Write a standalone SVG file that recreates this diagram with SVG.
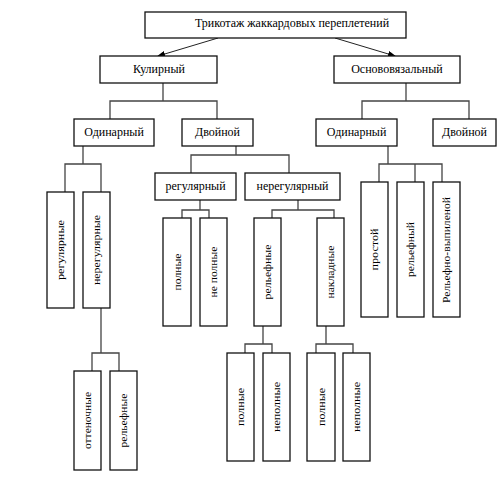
<svg xmlns="http://www.w3.org/2000/svg" width="501" height="479" viewBox="0 0 501 479">
<style>
.b{fill:#fff;stroke:#111;stroke-width:1.3}
.c{fill:none;stroke:#444;stroke-width:1.3}
.t{font-family:"Liberation Serif","Times New Roman",serif;font-size:12px;fill:#000;text-anchor:middle}
.v{font-family:"Liberation Serif","Times New Roman",serif;font-size:11px;fill:#000;text-anchor:middle}
</style>
<defs>
<marker id="ah" markerWidth="8" markerHeight="6" refX="7" refY="3" orient="auto" markerUnits="userSpaceOnUse">
<path d="M0,0 L8,3 L0,6 Z" fill="#000"/>
</marker>
</defs>
<rect width="501" height="479" fill="#fff"/>
<g id="connectors">
<line x1="218" y1="38" x2="158" y2="56" stroke="#222" stroke-width="1" marker-end="url(#ah)"/>
<line x1="335" y1="38" x2="395" y2="56" stroke="#222" stroke-width="1" marker-end="url(#ah)"/>
<path class="c" d="M163,83 V101 M110,119 V101 H217 V119"/>
<path class="c" d="M406,83 V101 M362,119 V101 H469 V119"/>
<path class="c" d="M83,146 V164 M65,192 V164 H101 V192"/>
<path class="c" d="M101,308 V353 M92,371 V353 H119 V371"/>
<path class="c" d="M236,146 V155 M191,173 V155 H289 V173"/>
<path class="c" d="M200,200 V210 M182,218 V210 H209 V218"/>
<path class="c" d="M298,200 V210 M272,218 V210 H334 V218"/>
<path class="c" d="M263,326 V344 M245,353 V344 H272 V353"/>
<path class="c" d="M326,326 V344 M316,353 V344 H353 V353"/>
<path class="c" d="M388,146 V164 M379,182 V164 H442 V182 M415,164 V182"/>
</g>
<g id="n-root"><rect class="b" x="145" y="12" width="261" height="26"/><text class="t" x="292" y="27">Трикотаж жаккардовых переплетений</text></g>
<g id="n-kul"><rect class="b" x="100" y="56" width="117" height="27"/><text class="t" x="159" y="73">Кулирный</text></g>
<g id="n-osn"><rect class="b" x="334" y="56" width="126" height="27"/><text class="t" x="397" y="73">Основовязальный</text></g>
<g id="n-kul-odin"><rect class="b" x="74" y="119" width="80" height="27"/><text class="t" x="114" y="136">Одинарный</text></g>
<g id="n-kul-dvoi"><rect class="b" x="182" y="119" width="71" height="27"/><text class="t" x="217.5" y="136">Двойной</text></g>
<g id="n-osn-odin"><rect class="b" x="316" y="119" width="81" height="27"/><text class="t" x="356.5" y="136">Одинарный</text></g>
<g id="n-osn-dvoi"><rect class="b" x="433" y="119" width="63" height="27"/><text class="t" x="464.5" y="136">Двойной</text></g>
<g id="n-reg"><rect class="b" x="155" y="173" width="81" height="27"/><text class="t" x="195.5" y="190">регулярный</text></g>
<g id="n-nereg"><rect class="b" x="245" y="173" width="95" height="27"/><text class="t" x="292.5" y="190">нерегулярный</text></g>
<g id="n-regularnye"><rect class="b" x="47" y="192" width="27" height="116"/><text class="v" transform="translate(60.5,250) rotate(-90)" dy="0.35em" textLength="60" lengthAdjust="spacingAndGlyphs">регулярные</text></g>
<g id="n-neregularnye"><rect class="b" x="83" y="192" width="27" height="116"/><text class="v" transform="translate(96.5,250) rotate(-90)" dy="0.35em" textLength="70" lengthAdjust="spacingAndGlyphs">нерегулярные</text></g>
<g id="n-ottenochnye"><rect class="b" x="74" y="371" width="27" height="99"/><text class="v" transform="translate(87.5,420.5) rotate(-90)" dy="0.35em" textLength="57" lengthAdjust="spacingAndGlyphs">оттеночные</text></g>
<g id="n-relefnye1"><rect class="b" x="110" y="371" width="27" height="99"/><text class="v" transform="translate(123.5,420.5) rotate(-90)" dy="0.35em" textLength="54" lengthAdjust="spacingAndGlyphs">рельефные</text></g>
<g id="n-polnye1"><rect class="b" x="163" y="218" width="28" height="108"/><text class="v" transform="translate(177,272) rotate(-90)" dy="0.35em" textLength="37" lengthAdjust="spacingAndGlyphs">полные</text></g>
<g id="n-nepolnye1"><rect class="b" x="200" y="218" width="27" height="108"/><text class="v" transform="translate(213.5,272) rotate(-90)" dy="0.35em" textLength="51" lengthAdjust="spacingAndGlyphs">не полные</text></g>
<g id="n-relefnye2"><rect class="b" x="254" y="218" width="27" height="108"/><text class="v" transform="translate(267.5,272) rotate(-90)" dy="0.35em" textLength="55" lengthAdjust="spacingAndGlyphs">рельефные</text></g>
<g id="n-nakladnye"><rect class="b" x="317" y="218" width="27" height="108"/><text class="v" transform="translate(330.5,272) rotate(-90)" dy="0.35em" textLength="53" lengthAdjust="spacingAndGlyphs">накладные</text></g>
<g id="n-polnye2"><rect class="b" x="227" y="353" width="27" height="108"/><text class="v" transform="translate(240.5,407) rotate(-90)" dy="0.35em" textLength="38" lengthAdjust="spacingAndGlyphs">полные</text></g>
<g id="n-nepolnye2"><rect class="b" x="263" y="353" width="27" height="108"/><text class="v" transform="translate(276.5,407) rotate(-90)" dy="0.35em" textLength="50" lengthAdjust="spacingAndGlyphs">неполные</text></g>
<g id="n-polnye3"><rect class="b" x="307" y="353" width="28" height="108"/><text class="v" transform="translate(321,407) rotate(-90)" dy="0.35em" textLength="38" lengthAdjust="spacingAndGlyphs">полные</text></g>
<g id="n-nepolnye3"><rect class="b" x="343" y="353" width="27" height="108"/><text class="v" transform="translate(356.5,407) rotate(-90)" dy="0.35em" textLength="50" lengthAdjust="spacingAndGlyphs">неполные</text></g>
<g id="n-prostoi"><rect class="b" x="361" y="182" width="27" height="135"/><text class="v" transform="translate(374.5,249.5) rotate(-90)" dy="0.35em" textLength="42" lengthAdjust="spacingAndGlyphs">простой</text></g>
<g id="n-relefnyi"><rect class="b" x="397" y="182" width="27" height="135"/><text class="v" transform="translate(410.5,249.5) rotate(-90)" dy="0.35em" textLength="55" lengthAdjust="spacingAndGlyphs">рельефный</text></g>
<g id="n-relefno"><rect class="b" x="433" y="182" width="27" height="135"/><text class="v" transform="translate(446.5,250) rotate(-90)" dy="0.35em" textLength="106" lengthAdjust="spacingAndGlyphs">Рельефно-выпиленой</text></g>
</svg>
